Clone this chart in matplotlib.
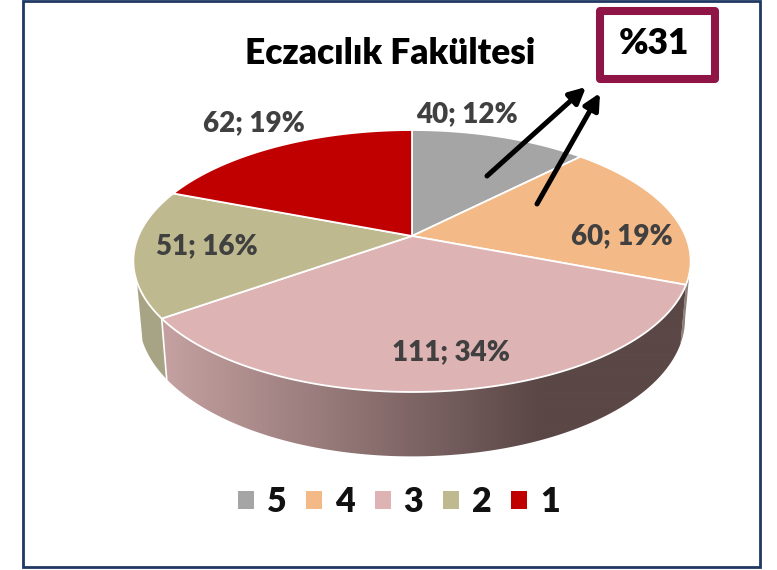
import numpy as np
import matplotlib
matplotlib.use('Agg')
import matplotlib.pyplot as plt
from matplotlib.patches import Patch, Rectangle, Polygon

categories = ['5', '4', '3', '2', '1']
values = [40, 60, 111, 51, 62]
percents = [12, 19, 34, 16, 19]
colors = ['#a5a5a5', '#f3b987', '#deb3b3', '#bfb98f', '#c00000']
title = 'Eczacılık Fakültesi'
box_text = '%31'

plt.rcParams['font.family'] = ['Lato', 'DejaVu Sans']

# perspective of the pie, fitted on the picture (pixels)
CX, CY = 412, 236
A, B, K = 273.5, 126.2, 0.191


def top_xy(deg):
    t = np.radians(deg)
    u, v = np.sin(t), np.cos(t)
    w = 1 + K * v
    return CX + A * u / w, CY - B * v / w


def bottom_xy(deg):
    x, y = top_xy(deg)
    return CX + 0.98 * (x - CX), CY + 56.6 + 1.05 * (y - CY)


def wall(d0, d1):
    degs = np.linspace(d0, d1, 100)
    x0, y0 = top_xy(degs)
    x1, y1 = bottom_xy(degs[::-1])
    return np.c_[np.r_[x0, x1], np.r_[y0, y1]]


fig = plt.figure(figsize=(7.77, 5.7), dpi=100)
ax = fig.add_axes([0, 0, 1, 1])

# frame
ax.add_patch(Rectangle((23, 1), 737, 566, fill=False, ec='#1f3864', lw=2))

# wedge angles, clockwise from 12 o'clock
edges = np.cumsum([0] + values) / sum(values) * 360

# side walls, front part only
ax.add_patch(Polygon(wall(101, edges[2]), fc='#8f8179', ec='none', zorder=2))
ax.add_patch(Polygon(wall(edges[3], 250), fc='#a6a484', ec='none', zorder=2))

# wall of 3 has a light to dark gradient
light = np.array(matplotlib.colors.to_rgb('#c4a0a0'))
dark = np.array(matplotlib.colors.to_rgb('#5a4746'))
f = np.clip((np.linspace(160, 690, 530) - 167) / (540 - 167), 0, 1)
grad = (1 - f[:, None]) * light + f[:, None] * dark
im = ax.imshow(grad[None, :, :], extent=(160, 690, 460, 270), aspect='auto', zorder=2, interpolation='bilinear')
im.set_clip_path(Polygon(wall(edges[2], edges[3]), transform=ax.transData))

ax.set_xlim(0, 777)
ax.set_ylim(570, 0)
ax.axis('off')

# white line between the walls of 3 and 2
x0, y0 = top_xy(edges[3])
x1, y1 = bottom_xy(edges[3])
ax.plot([x0, x1], [y0, y1], color='white', lw=1.2, zorder=3)

# top faces
for i in range(len(values)):
    degs = np.linspace(edges[i], edges[i + 1], 120)
    xs, ys = top_xy(degs)
    ax.fill(np.r_[CX, xs], np.r_[CY, ys], fc=colors[i], ec='white', lw=1.3, joinstyle='round', zorder=4)

# data labels
label_x = [467, 622, 451, 207, 254]
label_y = [114, 236, 352, 246, 123]
for i in range(len(values)):
    ax.text(label_x[i], label_y[i], f'{values[i]}; {percents[i]}%', color='#404040', fontsize=20,
            fontweight='heavy', ha='center', va='center', zorder=6)

ax.text(390, 54, title, fontsize=25.4, fontweight='heavy', color='black', ha='center', va='center', zorder=6)

# box
ax.add_patch(Rectangle((600, 11), 114.5, 67.5, fc='white', ec='#8e1545', lw=5.8, joinstyle='round', zorder=5))
ax.text(654, 44, box_text, fontsize=25.5, fontweight='heavy', color='black', ha='center', va='center', zorder=6)

# arrows
ax.annotate('', xy=(586, 87), xytext=(487, 176),
            arrowprops=dict(arrowstyle='-|>', color='black', lw=3.6, mutation_scale=24, shrinkA=0, shrinkB=0), zorder=6)
ax.annotate('', xy=(600, 93), xytext=(537, 204),
            arrowprops=dict(arrowstyle='-|>', color='black', lw=3.6, mutation_scale=24, shrinkA=0, shrinkB=0), zorder=6)

# legend
handles = [Patch(fc=colors[i], ec='none') for i in range(len(categories))]
ax.legend(handles, categories, ncol=5, loc='center', bbox_to_anchor=(399 / 777, 1 - 502 / 570), frameon=False,
          prop={'size': 24.5, 'weight': 'heavy'}, handlelength=0.47, handleheight=0.47, handletextpad=0.38,
          columnspacing=0.58, labelcolor='#111111')

fig.savefig('out.png', dpi=100)
